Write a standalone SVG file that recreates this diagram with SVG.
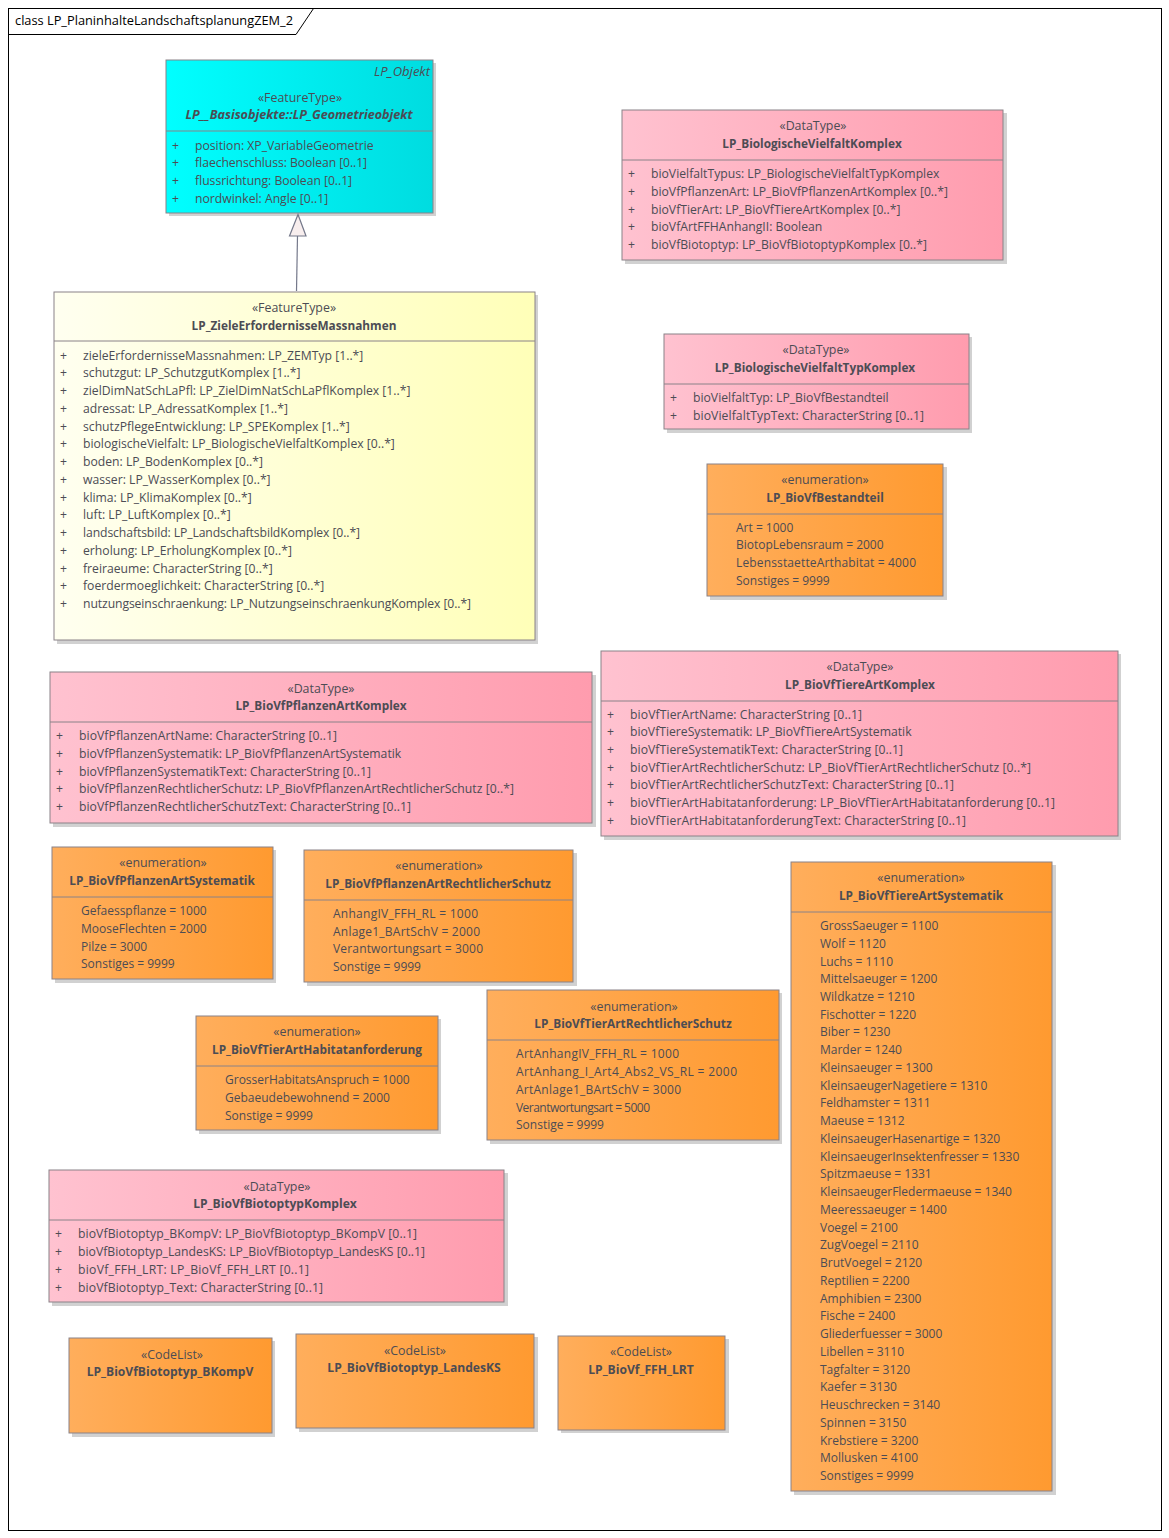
<svg xmlns="http://www.w3.org/2000/svg" width="1169" height="1538" viewBox="0 0 1169 1538">
<style>
text{font-family:"Open Sans","Noto Sans","Liberation Sans",sans-serif;font-size:12px;fill:#4c4c54}
.t text{font-size:12.2px}
text.s{text-anchor:middle;font-size:12.4px}
text.n{text-anchor:middle;font-weight:700;font-size:11.8px}
text.c{font-size:12.1px}
text.g{font-size:12.6px}
text.o{font-size:13px;font-style:italic}
.i{font-style:italic}
.b{stroke:#8a8288;stroke-width:1}
.d{stroke:#8a8288;stroke-width:1;fill:none}
.sh{fill:#000;opacity:.18}
text.title{fill:#000;font-size:12.800px}
</style>
<defs>
<linearGradient id="cy"><stop offset="0" stop-color="#00ffff"/><stop offset="1" stop-color="#00dce0"/></linearGradient>
<linearGradient id="ye"><stop offset="0" stop-color="#fffff0"/><stop offset="1" stop-color="#ffffb8"/></linearGradient>
<linearGradient id="pk"><stop offset="0" stop-color="#ffc2d0"/><stop offset="1" stop-color="#ff9cae"/></linearGradient>
<linearGradient id="or"><stop offset="0" stop-color="#ffae5c"/><stop offset="1" stop-color="#ff9a30"/></linearGradient>
</defs>
<rect width="1169" height="1538" fill="#fff"/>
<g id="frame">
<rect x="8.5" y="8.5" width="1153" height="1522" fill="none" stroke="#000"/>
<path d="M8.5 34.5H296L313.500 8.500" fill="none" stroke="#000"/>
<text class="title" x="15" y="25">class LP_PlaninhalteLandschaftsplanungZEM_2</text>
</g>
<g id="LP_Geometrieobjekt" class="t">
<rect class="sh" x="169" y="63" width="267" height="153"/>
<rect class="b" x="166" y="60" width="267" height="153" fill="url(#cy)"/>
<path class="d" d="M166 131H433"/>
<text class="o" x="430" y="76" text-anchor="end">LP_Objekt</text>
<text class="s" x="300" y="102">«FeatureType»</text>
<text class="n i g" x="299" y="119">LP__Basisobjekte::LP_Geometrieobjekt</text>
<text x="172" y="150">+</text><text x="195" y="150">position: XP_VariableGeometrie</text>
<text x="172" y="167">+</text><text x="195" y="167" textLength="172">flaechenschluss: Boolean [0..1]</text>
<text x="172" y="185">+</text><text x="195" y="185" textLength="157">flussrichtung: Boolean [0..1]</text>
<text x="172" y="203">+</text><text x="195" y="203">nordwinkel: Angle [0..1]</text>
</g>
<g id="LP_ZieleErfordernisseMassnahmen" class="t">
<rect class="sh" x="57" y="295" width="481" height="349"/>
<rect class="b" x="54" y="292" width="481" height="348" fill="url(#ye)"/>
<path class="d" d="M54 341H535"/>
<text class="s" x="294" y="312">«FeatureType»</text>
<text class="n" x="294" y="330">LP_ZieleErfordernisseMassnahmen</text>
<text x="60" y="360">+</text><text x="83" y="360">zieleErfordernisseMassnahmen: LP_ZEMTyp [1..*]</text>
<text x="60" y="377">+</text><text x="83" y="377">schutzgut: LP_SchutzgutKomplex [1..*]</text>
<text x="60" y="395">+</text><text x="83" y="395">zielDimNatSchLaPfl: LP_ZielDimNatSchLaPflKomplex [1..*]</text>
<text x="60" y="413">+</text><text x="83" y="413">adressat: LP_AdressatKomplex [1..*]</text>
<text x="60" y="431">+</text><text x="83" y="431">schutzPflegeEntwicklung: LP_SPEKomplex [1..*]</text>
<text x="60" y="448">+</text><text x="83" y="448">biologischeVielfalt: LP_BiologischeVielfaltKomplex [0..*]</text>
<text x="60" y="466">+</text><text x="83" y="466">boden: LP_BodenKomplex [0..*]</text>
<text x="60" y="484">+</text><text x="83" y="484">wasser: LP_WasserKomplex [0..*]</text>
<text x="60" y="502">+</text><text x="83" y="502">klima: LP_KlimaKomplex [0..*]</text>
<text x="60" y="519">+</text><text x="83" y="519">luft: LP_LuftKomplex [0..*]</text>
<text x="60" y="537">+</text><text x="83" y="537" textLength="277">landschaftsbild: LP_LandschaftsbildKomplex [0..*]</text>
<text x="60" y="555">+</text><text x="83" y="555">erholung: LP_ErholungKomplex [0..*]</text>
<text x="60" y="573">+</text><text x="83" y="573">freiraeume: CharacterString [0..*]</text>
<text x="60" y="590">+</text><text x="83" y="590">foerdermoeglichkeit: CharacterString [0..*]</text>
<text x="60" y="608">+</text><text x="83" y="608" textLength="388">nutzungseinschraenkung: LP_NutzungseinschraenkungKomplex [0..*]</text>
</g>
<g id="LP_BiologischeVielfaltKomplex" class="t">
<rect class="sh" x="625" y="113" width="382" height="151"/>
<rect class="b" x="622" y="110" width="381" height="150" fill="url(#pk)"/>
<path class="d" d="M622 160H1003"/>
<text class="s" x="813" y="130">«DataType»</text>
<text class="n" x="812" y="148">LP_BiologischeVielfaltKomplex</text>
<text x="628" y="178">+</text><text x="651" y="178">bioVielfaltTypus: LP_BiologischeVielfaltTypKomplex</text>
<text x="628" y="196">+</text><text x="651" y="196">bioVfPflanzenArt: LP_BioVfPflanzenArtKomplex [0..*]</text>
<text x="628" y="214">+</text><text x="651" y="214">bioVfTierArt: LP_BioVfTiereArtKomplex [0..*]</text>
<text x="628" y="231">+</text><text x="651" y="231">bioVfArtFFHAnhangII: Boolean</text>
<text x="628" y="249">+</text><text x="651" y="249">bioVfBiotoptyp: LP_BioVfBiotoptypKomplex [0..*]</text>
</g>
<g id="LP_BiologischeVielfaltTypKomplex" class="t">
<rect class="sh" x="667" y="337" width="305" height="96"/>
<rect class="b" x="664" y="334" width="305" height="95" fill="url(#pk)"/>
<path class="d" d="M664 384H969"/>
<text class="s" x="816" y="354">«DataType»</text>
<text class="n" x="815" y="372">LP_BiologischeVielfaltTypKomplex</text>
<text x="670" y="402">+</text><text x="693" y="402">bioVielfaltTyp: LP_BioVfBestandteil</text>
<text x="670" y="420">+</text><text x="693" y="420" textLength="231">bioVielfaltTypText: CharacterString [0..1]</text>
</g>
<g id="LP_BioVfBestandteil">
<rect class="sh" x="710" y="467" width="237" height="133"/>
<rect class="b" x="707" y="464" width="236" height="132" fill="url(#or)"/>
<path class="d" d="M707 514H943"/>
<text class="s" x="825" y="484">«enumeration»</text>
<text class="n" x="825" y="502">LP_BioVfBestandteil</text>
<text x="736" y="532">Art = 1000</text>
<text x="736" y="549">BiotopLebensraum = 2000</text>
<text x="736" y="567" textLength="180">LebensstaetteArthabitat = 4000</text>
<text x="736" y="585">Sonstiges = 9999</text>
</g>
<g id="LP_BioVfPflanzenArtKomplex" class="t">
<rect class="sh" x="53" y="675" width="543" height="152"/>
<rect class="b" x="50" y="672" width="542" height="151" fill="url(#pk)"/>
<path class="d" d="M50 722H592"/>
<text class="s" x="321" y="693">«DataType»</text>
<text class="n" x="321" y="710">LP_BioVfPflanzenArtKomplex</text>
<text x="56" y="740">+</text><text x="79" y="740" textLength="258">bioVfPflanzenArtName: CharacterString [0..1]</text>
<text x="56" y="758">+</text><text x="79" y="758">bioVfPflanzenSystematik: LP_BioVfPflanzenArtSystematik</text>
<text x="56" y="776">+</text><text x="79" y="776" textLength="292">bioVfPflanzenSystematikText: CharacterString [0..1]</text>
<text x="56" y="793">+</text><text x="79" y="793" textLength="435">bioVfPflanzenRechtlicherSchutz: LP_BioVfPflanzenArtRechtlicherSchutz [0..*]</text>
<text x="56" y="811">+</text><text x="79" y="811" textLength="332">bioVfPflanzenRechtlicherSchutzText: CharacterString [0..1]</text>
</g>
<g id="LP_BioVfTiereArtKomplex" class="t">
<rect class="sh" x="604" y="654" width="517" height="186"/>
<rect class="b" x="601" y="651" width="517" height="185" fill="url(#pk)"/>
<path class="d" d="M601 701H1118"/>
<text class="s" x="860" y="671">«DataType»</text>
<text class="n" x="860" y="689">LP_BioVfTiereArtKomplex</text>
<text x="607" y="719">+</text><text x="630" y="719" textLength="232">bioVfTierArtName: CharacterString [0..1]</text>
<text x="607" y="736">+</text><text x="630" y="736">bioVfTiereSystematik: LP_BioVfTiereArtSystematik</text>
<text x="607" y="754">+</text><text x="630" y="754" textLength="273">bioVfTiereSystematikText: CharacterString [0..1]</text>
<text x="607" y="772">+</text><text x="630" y="772" textLength="401">bioVfTierArtRechtlicherSchutz: LP_BioVfTierArtRechtlicherSchutz [0..*]</text>
<text x="607" y="789">+</text><text x="630" y="789" textLength="324">bioVfTierArtRechtlicherSchutzText: CharacterString [0..1]</text>
<text x="607" y="807">+</text><text x="630" y="807" textLength="425">bioVfTierArtHabitatanforderung: LP_BioVfTierArtHabitatanforderung [0..1]</text>
<text x="607" y="825">+</text><text x="630" y="825" textLength="336">bioVfTierArtHabitatanforderungText: CharacterString [0..1]</text>
</g>
<g id="LP_BioVfPflanzenArtSystematik">
<rect class="sh" x="55" y="850" width="221" height="133"/>
<rect class="b" x="52" y="847" width="221" height="132" fill="url(#or)"/>
<path class="d" d="M52 897H273"/>
<text class="s" x="163" y="867">«enumeration»</text>
<text class="n" x="162" y="885">LP_BioVfPflanzenArtSystematik</text>
<text x="81" y="915">Gefaesspflanze = 1000</text>
<text x="81" y="933">MooseFlechten = 2000</text>
<text x="81" y="951">Pilze = 3000</text>
<text x="81" y="968">Sonstiges = 9999</text>
</g>
<g id="LP_BioVfPflanzenArtRechtlicherSchutz">
<rect class="sh" x="307" y="853" width="270" height="133"/>
<rect class="b" x="304" y="850" width="269" height="132" fill="url(#or)"/>
<path class="d" d="M304 900H573"/>
<text class="s" x="439" y="870">«enumeration»</text>
<text class="n" x="438" y="888">LP_BioVfPflanzenArtRechtlicherSchutz</text>
<text x="333" y="918" textLength="145">AnhangIV_FFH_RL = 1000</text>
<text x="333" y="936" textLength="147">Anlage1_BArtSchV = 2000</text>
<text x="333" y="953" textLength="150">Verantwortungsart = 3000</text>
<text x="333" y="971">Sonstige = 9999</text>
</g>
<g id="LP_BioVfTierArtHabitatanforderung">
<rect class="sh" x="199" y="1019" width="242" height="115"/>
<rect class="b" x="196" y="1016" width="242" height="114" fill="url(#or)"/>
<path class="d" d="M196 1066H438"/>
<text class="s" x="317" y="1036">«enumeration»</text>
<text class="n" x="317" y="1054">LP_BioVfTierArtHabitatanforderung</text>
<text x="225" y="1084">GrosserHabitatsAnspruch = 1000</text>
<text x="225" y="1102">Gebaeudebewohnend = 2000</text>
<text x="225" y="1120">Sonstige = 9999</text>
</g>
<g id="LP_BioVfTierArtRechtlicherSchutz">
<rect class="sh" x="490" y="993" width="292" height="151"/>
<rect class="b" x="487" y="990" width="292" height="150" fill="url(#or)"/>
<path class="d" d="M487 1040H779"/>
<text class="s" x="634" y="1011">«enumeration»</text>
<text class="n" x="633" y="1028">LP_BioVfTierArtRechtlicherSchutz</text>
<text x="516" y="1058" textLength="163">ArtAnhangIV_FFH_RL = 1000</text>
<text x="516" y="1076" textLength="221">ArtAnhang_I_Art4_Abs2_VS_RL = 2000</text>
<text x="516" y="1094" textLength="165">ArtAnlage1_BArtSchV = 3000</text>
<text x="516" y="1112" textLength="134">Verantwortungsart = 5000</text>
<text x="516" y="1129">Sonstige = 9999</text>
</g>
<g id="LP_BioVfTiereArtSystematik">
<rect class="sh" x="794" y="865" width="262" height="630"/>
<rect class="b" x="791" y="862" width="261" height="629" fill="url(#or)"/>
<path class="d" d="M791 912H1052"/>
<text class="s" x="921" y="882">«enumeration»</text>
<text class="n" x="921" y="900">LP_BioVfTiereArtSystematik</text>
<text x="820" y="930">GrossSaeuger = 1100</text>
<text x="820" y="948">Wolf = 1120</text>
<text x="820" y="966">Luchs = 1110</text>
<text x="820" y="983">Mittelsaeuger = 1200</text>
<text x="820" y="1001">Wildkatze = 1210</text>
<text x="820" y="1019">Fischotter = 1220</text>
<text x="820" y="1036">Biber = 1230</text>
<text x="820" y="1054">Marder = 1240</text>
<text x="820" y="1072">Kleinsaeuger = 1300</text>
<text x="820" y="1090">KleinsaeugerNagetiere = 1310</text>
<text x="820" y="1107">Feldhamster = 1311</text>
<text x="820" y="1125">Maeuse = 1312</text>
<text x="820" y="1143">KleinsaeugerHasenartige = 1320</text>
<text x="820" y="1161">KleinsaeugerInsektenfresser = 1330</text>
<text x="820" y="1178">Spitzmaeuse = 1331</text>
<text x="820" y="1196">KleinsaeugerFledermaeuse = 1340</text>
<text x="820" y="1214">Meeressaeuger = 1400</text>
<text x="820" y="1232">Voegel = 2100</text>
<text x="820" y="1249">ZugVoegel = 2110</text>
<text x="820" y="1267">BrutVoegel = 2120</text>
<text x="820" y="1285">Reptilien = 2200</text>
<text x="820" y="1303">Amphibien = 2300</text>
<text x="820" y="1320">Fische = 2400</text>
<text x="820" y="1338">Gliederfuesser = 3000</text>
<text x="820" y="1356">Libellen = 3110</text>
<text x="820" y="1374">Tagfalter = 3120</text>
<text x="820" y="1391">Kaefer = 3130</text>
<text x="820" y="1409">Heuschrecken = 3140</text>
<text x="820" y="1427">Spinnen = 3150</text>
<text x="820" y="1445">Krebstiere = 3200</text>
<text x="820" y="1462">Mollusken = 4100</text>
<text x="820" y="1480">Sonstiges = 9999</text>
</g>
<g id="LP_BioVfBiotoptypKomplex" class="t">
<rect class="sh" x="52" y="1173" width="456" height="133"/>
<rect class="b" x="49" y="1170" width="455" height="132" fill="url(#pk)"/>
<path class="d" d="M49 1220H504"/>
<text class="s" x="277" y="1191">«DataType»</text>
<text class="n c" x="275" y="1208">LP_BioVfBiotoptypKomplex</text>
<text x="55" y="1238">+</text><text x="78" y="1238" textLength="339">bioVfBiotoptyp_BKompV: LP_BioVfBiotoptyp_BKompV [0..1]</text>
<text x="55" y="1256">+</text><text x="78" y="1256" textLength="347">bioVfBiotoptyp_LandesKS: LP_BioVfBiotoptyp_LandesKS [0..1]</text>
<text x="55" y="1274">+</text><text x="78" y="1274" textLength="231">bioVf_FFH_LRT: LP_BioVf_FFH_LRT [0..1]</text>
<text x="55" y="1292">+</text><text x="78" y="1292" textLength="245">bioVfBiotoptyp_Text: CharacterString [0..1]</text>
</g>
<g id="LP_BioVfBiotoptyp_BKompV">
<rect class="sh" x="72" y="1341" width="203" height="96"/>
<rect class="b" x="69" y="1338" width="203" height="95" fill="url(#or)"/>
<text class="s" x="172" y="1359">«CodeList»</text>
<text class="n c" x="170" y="1376">LP_BioVfBiotoptyp_BKompV</text>
</g>
<g id="LP_BioVfBiotoptyp_LandesKS">
<rect class="sh" x="299" y="1337" width="239" height="95"/>
<rect class="b" x="296" y="1334" width="238" height="94" fill="url(#or)"/>
<text class="s" x="415" y="1355">«CodeList»</text>
<text class="n c" x="414" y="1372">LP_BioVfBiotoptyp_LandesKS</text>
</g>
<g id="LP_BioVf_FFH_LRT">
<rect class="sh" x="561" y="1339" width="168" height="94"/>
<rect class="b" x="558" y="1336" width="167" height="94" fill="url(#or)"/>
<text class="s" x="641" y="1356">«CodeList»</text>
<text class="n c" x="641" y="1374">LP_BioVf_FFH_LRT</text>
</g>
<g id="connectors">
<path d="M296.500 291L297.500 236" fill="none" stroke="#74788a" stroke-width="1.200"/>
<path d="M298 214.500L289.500 236H306Z" fill="#f8eeee" stroke="#74788a" stroke-width="1.200"/>
</g>
</svg>
